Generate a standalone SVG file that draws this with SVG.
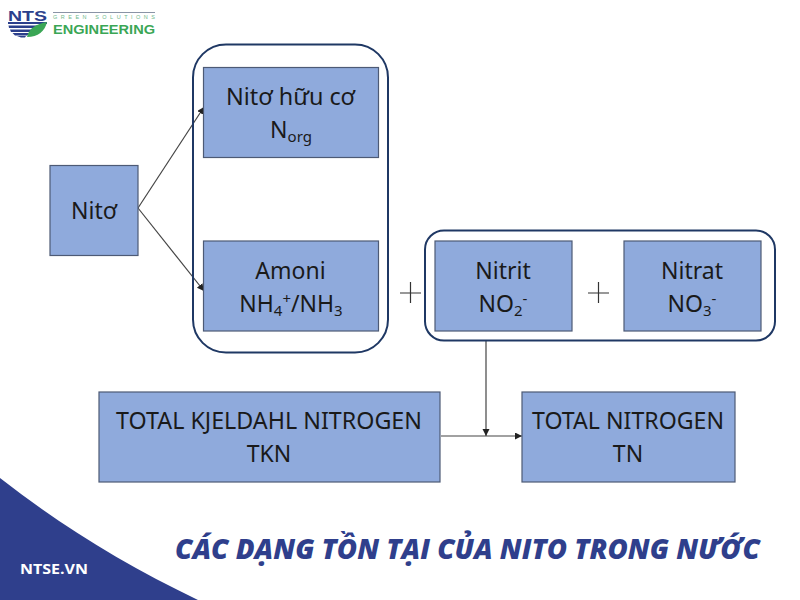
<svg xmlns="http://www.w3.org/2000/svg" width="800" height="600" viewBox="0 0 800 600">
<style>
.box{fill:#8faadc;stroke:#4d5a75;stroke-width:1.2}
.grp{fill:none;stroke:#1f3864;stroke-width:2}
.t{font-family:"Noto Sans","Open Sans","Liberation Sans",sans-serif;font-size:23px;fill:#1a1a1a;text-anchor:middle}
.c{fill:none;stroke:#444;stroke-width:1.2}
.plus{stroke:#333;stroke-width:1.2}
</style>
<defs><marker id="a" markerWidth="8" markerHeight="8" refX="7" refY="3.5" orient="auto" markerUnits="userSpaceOnUse"><path d="M0 0L7 3.5L0 7z" fill="#222"/></marker></defs>
<rect width="800" height="600" fill="#fff"/>
<g id="logo">
<text x="8" y="21" font-family="'Liberation Sans',sans-serif" font-weight="700" font-size="15.500" fill="#2b3f8c" textLength="39" lengthAdjust="spacingAndGlyphs">NTS</text>
<path d="M8 22H47V24H8zM8.500 25.500H42V28H9zM10 29.500H36L33 32H11zM12.500 33H30L27 35.500H15zM17 36H26L25 37.500H21z" fill="#2b3f8c"/>
<path d="M27 37C29 28 36 24 47 22C45 31 38 37 27 37z" fill="#3aa655"/>
<path d="M53 12.500H155" stroke="#8a94a6" stroke-width="1"/>
<text x="53" y="19" font-family="'Liberation Sans',sans-serif" font-size="5.500" fill="#6fb98a" textLength="102">GREEN SOLUTIONS</text>
<text x="53" y="34" font-family="'Liberation Sans',sans-serif" font-weight="700" font-size="13.500" fill="#3aa655" textLength="102" lengthAdjust="spacingAndGlyphs">ENGINEERING</text>
</g>
<g id="corner"><path d="M0 478C60 525 125 565 198 600H0z" fill="#2f3f8c"/>
<text x="20" y="574" font-family="'Open Sans','Liberation Sans',sans-serif" font-weight="700" font-size="15" fill="#fff" textLength="68" lengthAdjust="spacingAndGlyphs">NTSE.VN</text></g>
<g id="connectors">
<path class="c" marker-end="url(#a)" d="M138 208L204 107"/>
<path class="c" marker-end="url(#a)" d="M138 208L204 291"/>
<path class="c" marker-end="url(#a)" d="M486 341V436"/>
<path class="c" marker-end="url(#a)" d="M441 436H522"/>
</g>
<g id="group-left"><rect class="grp" x="193" y="44.500" width="195" height="308" rx="33"/></g>
<g id="group-right"><rect class="grp" x="425" y="230.500" width="350" height="110" rx="19"/></g>
<g id="nito"><rect class="box" x="50" y="165.500" width="88" height="90"/><text class="t" x="94" y="219">Nitơ</text></g>
<g id="norg"><rect class="box" x="203.500" y="67.500" width="175" height="90"/><text class="t" x="290.500" y="105" textLength="129" lengthAdjust="spacingAndGlyphs">Nitơ hữu cơ</text><text class="t" x="291" y="138">N<tspan font-size="15" dy="4">org</tspan></text></g>
<g id="amoni"><rect class="box" x="203.500" y="241" width="175" height="90"/><text class="t" x="290.500" y="279">Amoni</text><text class="t" x="291" y="312">NH<tspan font-size="15" dy="4">4</tspan><tspan font-size="15" dy="-12">+</tspan><tspan dy="8">/NH</tspan><tspan font-size="15" dy="4">3</tspan></text></g>
<g id="nitrit"><rect class="box" x="435" y="241" width="137" height="90"/><text class="t" x="503" y="279">Nitrit</text><text class="t" x="503" y="312">NO<tspan font-size="15" dy="4">2</tspan><tspan font-size="15" dy="-12">-</tspan></text></g>
<g id="nitrat"><rect class="box" x="624" y="241" width="137" height="90"/><text class="t" x="692" y="279">Nitrat</text><text class="t" x="692" y="312">NO<tspan font-size="15" dy="4">3</tspan><tspan font-size="15" dy="-12">-</tspan></text></g>
<g id="plus1"><path class="plus" d="M400 293H421M410.500 282V303"/></g>
<g id="plus2"><path class="plus" d="M588 293H609M598.500 282V303"/></g>
<g id="tkn"><rect class="box" x="99" y="392" width="341" height="90"/><text class="t" x="269" y="429" textLength="306" lengthAdjust="spacingAndGlyphs">TOTAL KJELDAHL NITROGEN</text><text class="t" x="269" y="462">TKN</text></g>
<g id="tn"><rect class="box" x="522" y="392" width="213" height="90"/><text class="t" x="628" y="429" textLength="192" lengthAdjust="spacingAndGlyphs">TOTAL NITROGEN</text><text class="t" x="628" y="462">TN</text></g>
<text x="175" y="559" font-family="'Open Sans','Liberation Sans',sans-serif" font-weight="800" font-style="italic" font-size="28" fill="#2f3f8c" textLength="585" lengthAdjust="spacingAndGlyphs">CÁC DẠNG TỒN TẠI CỦA NITO TRONG NƯỚC</text>
</svg>
